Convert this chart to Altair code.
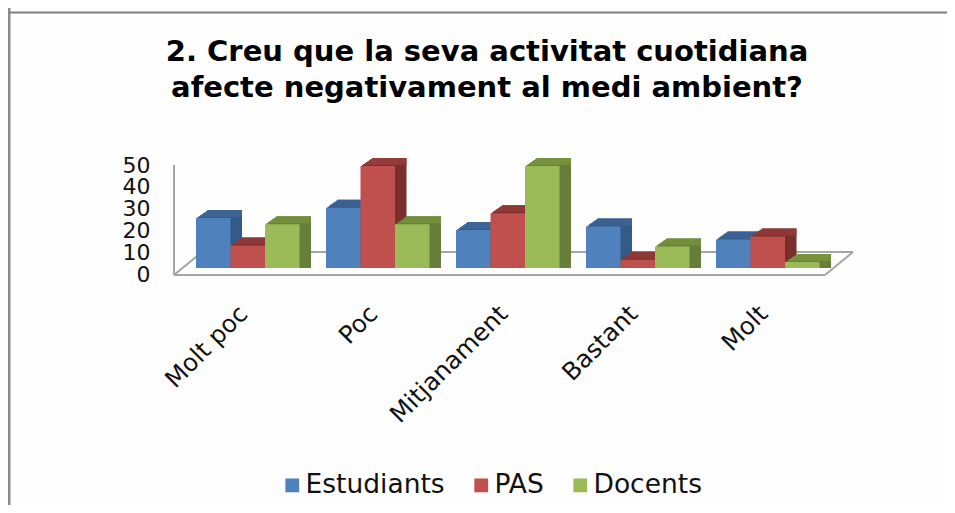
import altair as alt
import pandas as pd

categories = ["Molt poc", "Poc", "Mitjanament", "Bastant", "Molt"]
series_names = ["Estudiants", "PAS", "Docents"]
estudiants = [24.5, 29.5, 18.6, 20.3, 14]
pas = [11, 50, 26.8, 4, 15.4]
docents = [21.5, 21.5, 50, 10.5, 3]
front_colors = ["#4F81BD", "#C0504D", "#9BBB59"]
side_colors = ["#355A86", "#7A2F2D", "#667F3A"]
top_colors = ["#3C6595", "#933C3A", "#76923C"]

rows = []
for name, vals in zip(series_names, [estudiants, pas, docents]):
    for c, v in zip(categories, vals):
        rows.append({"cat": c, "serie": name, "valor": v, "sostre": v + 0.49})
df = pd.DataFrame(rows)

FONT = "DejaVu Sans"
PW, PH = 651, 118


def x_bar(i):
    start = 22 + i * 34.5
    return alt.X(
        "cat:N",
        sort=categories,
        axis=None,
        scale=alt.Scale(domain=categories, range=[start, start + 554.5], paddingInner=0.7346, paddingOuter=0),
    )


x_axis = alt.X(
    "cat:N",
    sort=categories,
    scale=alt.Scale(domain=categories, range=[4.5, 654.5], paddingInner=0.1923, paddingOuter=0.096),
    axis=alt.Axis(
        title=None, domain=False, ticks=False, labelAngle=-45, labelAlign="right",
        labelBaseline="middle", labelFontSize=24.5, labelFont=FONT, labelColor="#111111",
        labelPadding=35, labelLimit=300, labelOverlap=False,
    ),
)
y_bar = alt.Y("valor:Q", axis=None, scale=alt.Scale(domain=[0, 50], range=[111, 9], nice=False), stack=None)
y_axis = alt.Y(
    "valor:Q",
    scale=alt.Scale(domain=[0, 50], range=[117, 8], nice=False),
    axis=alt.Axis(
        title=None, values=[0, 10, 20, 30, 40, 50], domain=False, ticks=False, grid=False,
        labelFontSize=22, labelFont=FONT, labelColor="#111111", labelPadding=24, labelOverlap=False,
    ),
)

base = alt.Chart(df)
one = alt.Chart(pd.DataFrame({"u": [0]}))
GREY = "#A6A6A6"


def line(x1, y1, x2, y2, color=GREY, w=2):
    return one.mark_rule(color=color, strokeWidth=w).encode(
        x=alt.value(x1), x2=alt.value(x2), y=alt.value(y1), y2=alt.value(y2)
    )


layers = [
    base.mark_point(opacity=0).encode(x=x_axis, y=y_axis),
    line(-165, -149, -165, 348, "#8C8C8C", 3),
    line(-166, -144.5, 781, -144.5, "#808080", 2),
    line(0, 8, 0, 118),
    line(0, 118, 651, 118),
    line(0, 118, 28, 95),
    line(28, 95, 679, 95),
    line(651, 118, 679, 95),
]

DEPTH = 8
for i, name in enumerate(series_names):
    sel = base.transform_filter(alt.datum.serie == name)
    for k in range(DEPTH, 0, -1):
        dx, dy = k * 1.44, -k
        layers.append(
            sel.mark_bar(color=side_colors[i], xOffset=dx, yOffset=dy).encode(x=x_bar(i), y=y_bar)
        )
        layers.append(
            sel.mark_bar(color=top_colors[i], xOffset=dx, yOffset=dy).encode(
                x=x_bar(i), y=y_bar, y2=alt.Y2("sostre:Q")
            )
        )
    layers.append(
        sel.mark_bar().encode(
            x=x_bar(i),
            y=y_bar,
            color=alt.Color(
                "serie:N",
                scale=alt.Scale(domain=series_names, range=front_colors),
                legend=alt.Legend(
                    orient="none", legendX=105, legendY=315, direction="horizontal",
                    title=None, symbolType="square", symbolSize=190, symbolStrokeWidth=0,
                    labelFontSize=26.5, labelFont=FONT, labelColor="#111111",
                    columnPadding=23, labelOffset=0, symbolOpacity=1,
                ),
            ),
        )
    )

chart = (
    alt.layer(*layers)
    .resolve_scale(x="independent", y="independent")
    .properties(
        width=PW,
        height=PH,
        padding={"left": 166, "top": 149, "right": 122, "bottom": 230},
        autosize=alt.AutoSizeParams(type="none"),
        background="#FEFEFE",
        title=alt.TitleParams(
            text=["2. Creu que la seva activitat cuotidiana", "afecte negativament al medi ambient?"],
            font=FONT, fontSize=29, fontWeight="bold", color="#000000",
            anchor="middle", frame="group", dx=-12.5, offset=-96, lineHeight=36,
        ),
    )
    .configure_view(stroke="transparent")
)

chart.save("out.html", embed_options={"renderer": "svg", "actions": False})
